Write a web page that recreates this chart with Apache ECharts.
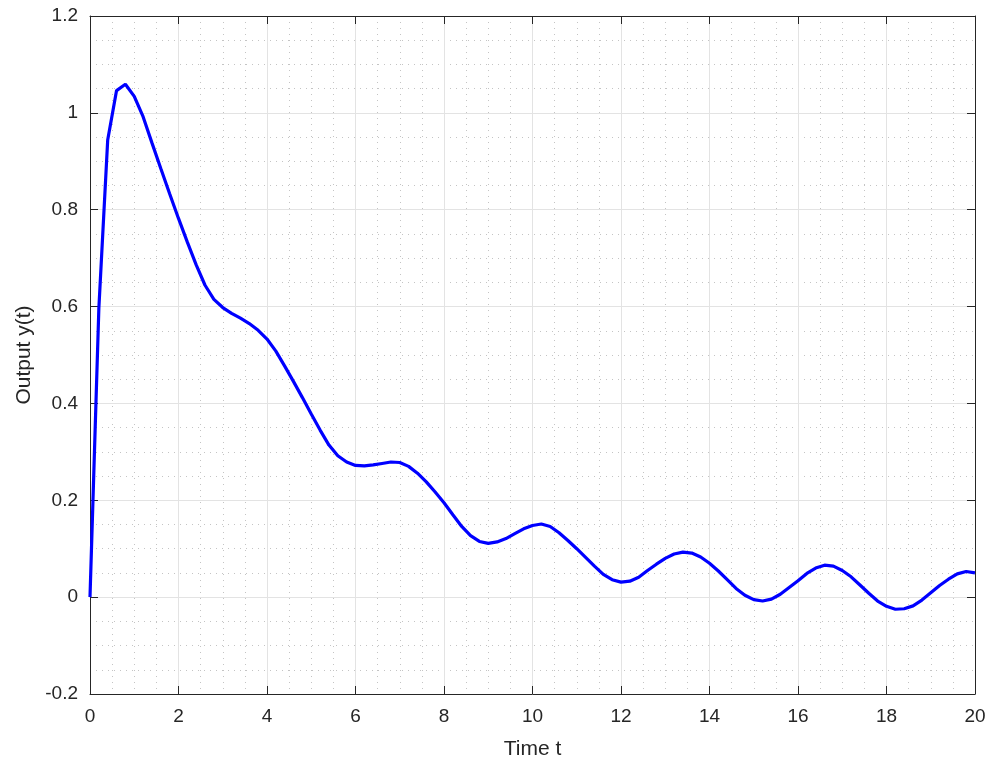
<!DOCTYPE html>
<html>
<head>
<meta charset="utf-8">
<script src="https://cdn.jsdelivr.net/npm/echarts@6/dist/echarts.min.js"></script>
<style>html,body{margin:0;padding:0;background:#fff}#c{width:994px;height:767px}</style>
</head>
<body>
<div id="c"></div>
<script>
const times = [0,0.2,0.4,0.6,0.8,1.0,1.2,1.4,1.6,1.8,2.0,2.2,2.4,2.6,2.8,3.0,3.2,3.4,3.6,3.8,4.0,4.2,4.4,4.6,4.8,5.0,5.2,5.4,5.6,5.8,6.0,6.2,6.4,6.6,6.8,7.0,7.2,7.4,7.6,7.8,8.0,8.2,8.4,8.6,8.8,9.0,9.2,9.4,9.6,9.8,10.0,10.2,10.4,10.6,10.8,11.0,11.2,11.4,11.6,11.8,12.0,12.2,12.4,12.6,12.8,13.0,13.2,13.4,13.6,13.8,14.0,14.2,14.4,14.6,14.8,15.0,15.2,15.4,15.6,15.8,16.0,16.2,16.4,16.6,16.8,17.0,17.2,17.4,17.6,17.8,18.0,18.2,18.4,18.6,18.8,19.0,19.2,19.4,19.6,19.8,20.0];
const output = [0,0.596,0.944,1.046,1.059,1.034,0.992,0.938,0.885,0.833,0.782,0.733,0.686,0.644,0.615,0.598,0.586,0.576,0.565,0.551,0.533,0.508,0.477,0.445,0.412,0.378,0.345,0.314,0.292,0.279,0.272,0.271,0.273,0.276,0.279,0.278,0.270,0.256,0.238,0.217,0.195,0.170,0.146,0.127,0.115,0.111,0.114,0.121,0.131,0.141,0.148,0.151,0.146,0.133,0.117,0.100,0.082,0.064,0.047,0.036,0.031,0.033,0.041,0.055,0.068,0.080,0.089,0.093,0.091,0.083,0.070,0.054,0.036,0.018,0.004,-0.005,-0.008,-0.004,0.006,0.020,0.034,0.049,0.060,0.066,0.064,0.055,0.042,0.025,0.008,-0.008,-0.019,-0.025,-0.024,-0.018,-0.006,0.009,0.024,0.037,0.048,0.053,0.050];
const xTitle = 'Time t';
const yTitle = 'Output y(t)';

const font = 'Liberation Sans, Arial, Helvetica, sans-serif';
const axisColor = '#262626';
const major = {show:true, lineStyle:{color:'#e3e3e3', width:1}};
const minor = {show:true, lineStyle:{color:'#c4c4c4', width:1, type:[1,5]}};
function mkX(pos, labels){
  return {type:'value', position:pos, min:0, max:20, interval:2,
    name: labels ? xTitle : '', nameLocation:'middle', nameGap:45,
    nameTextStyle:{fontFamily:font, fontSize:21, color:axisColor},
    axisLine:{show:true, onZero:false, lineStyle:{color:axisColor, width:1}},
    axisTick:{show:true, inside:true, length:8, lineStyle:{color:axisColor}},
    axisLabel:{show:labels, fontFamily:font, fontSize:19, color:axisColor, margin:13},
    splitLine: labels ? major : {show:false},
    minorTick:{show:labels, splitNumber:4, length:0},
    minorSplitLine: labels ? minor : {show:false}};
}
function mkY(pos, labels){
  return {type:'value', position:pos, min:-0.2, max:1.2, interval:0.2,
    name: labels ? yTitle : '', nameLocation:'middle', nameGap:54,
    nameTextStyle:{fontFamily:font, fontSize:21, color:axisColor},
    axisLine:{show:true, onZero:false, lineStyle:{color:axisColor, width:1}},
    axisTick:{show:true, inside:true, length:8, lineStyle:{color:axisColor}},
    axisLabel:{show:labels, fontFamily:font, fontSize:19, color:axisColor, margin:12,
      formatter: v => { const r = Math.round(v*10)/10; return r === 0 ? '0' : String(r); }},
    splitLine: labels ? major : {show:false},
    minorTick:{show:labels, splitNumber:4, length:0},
    minorSplitLine: labels ? minor : {show:false}};
}
const chart = echarts.init(document.getElementById('c'), null, {renderer:'canvas'});
chart.setOption({
  animation:false,
  backgroundColor:'#ffffff',
  grid:{left:90, right:19, top:16, bottom:73, containLabel:false},
  xAxis:[mkX('bottom', true), mkX('top', false)],
  yAxis:[mkY('left', true), mkY('right', false)],
  series:[{type:'line', xAxisIndex:0, yAxisIndex:0, showSymbol:false, smooth:false,
    data: times.map((t,i)=>[t, output[i]]),
    lineStyle:{color:'#0000ff', width:3.2}, itemStyle:{color:'#0000ff'}}]
});
</script>
</body>
</html>
